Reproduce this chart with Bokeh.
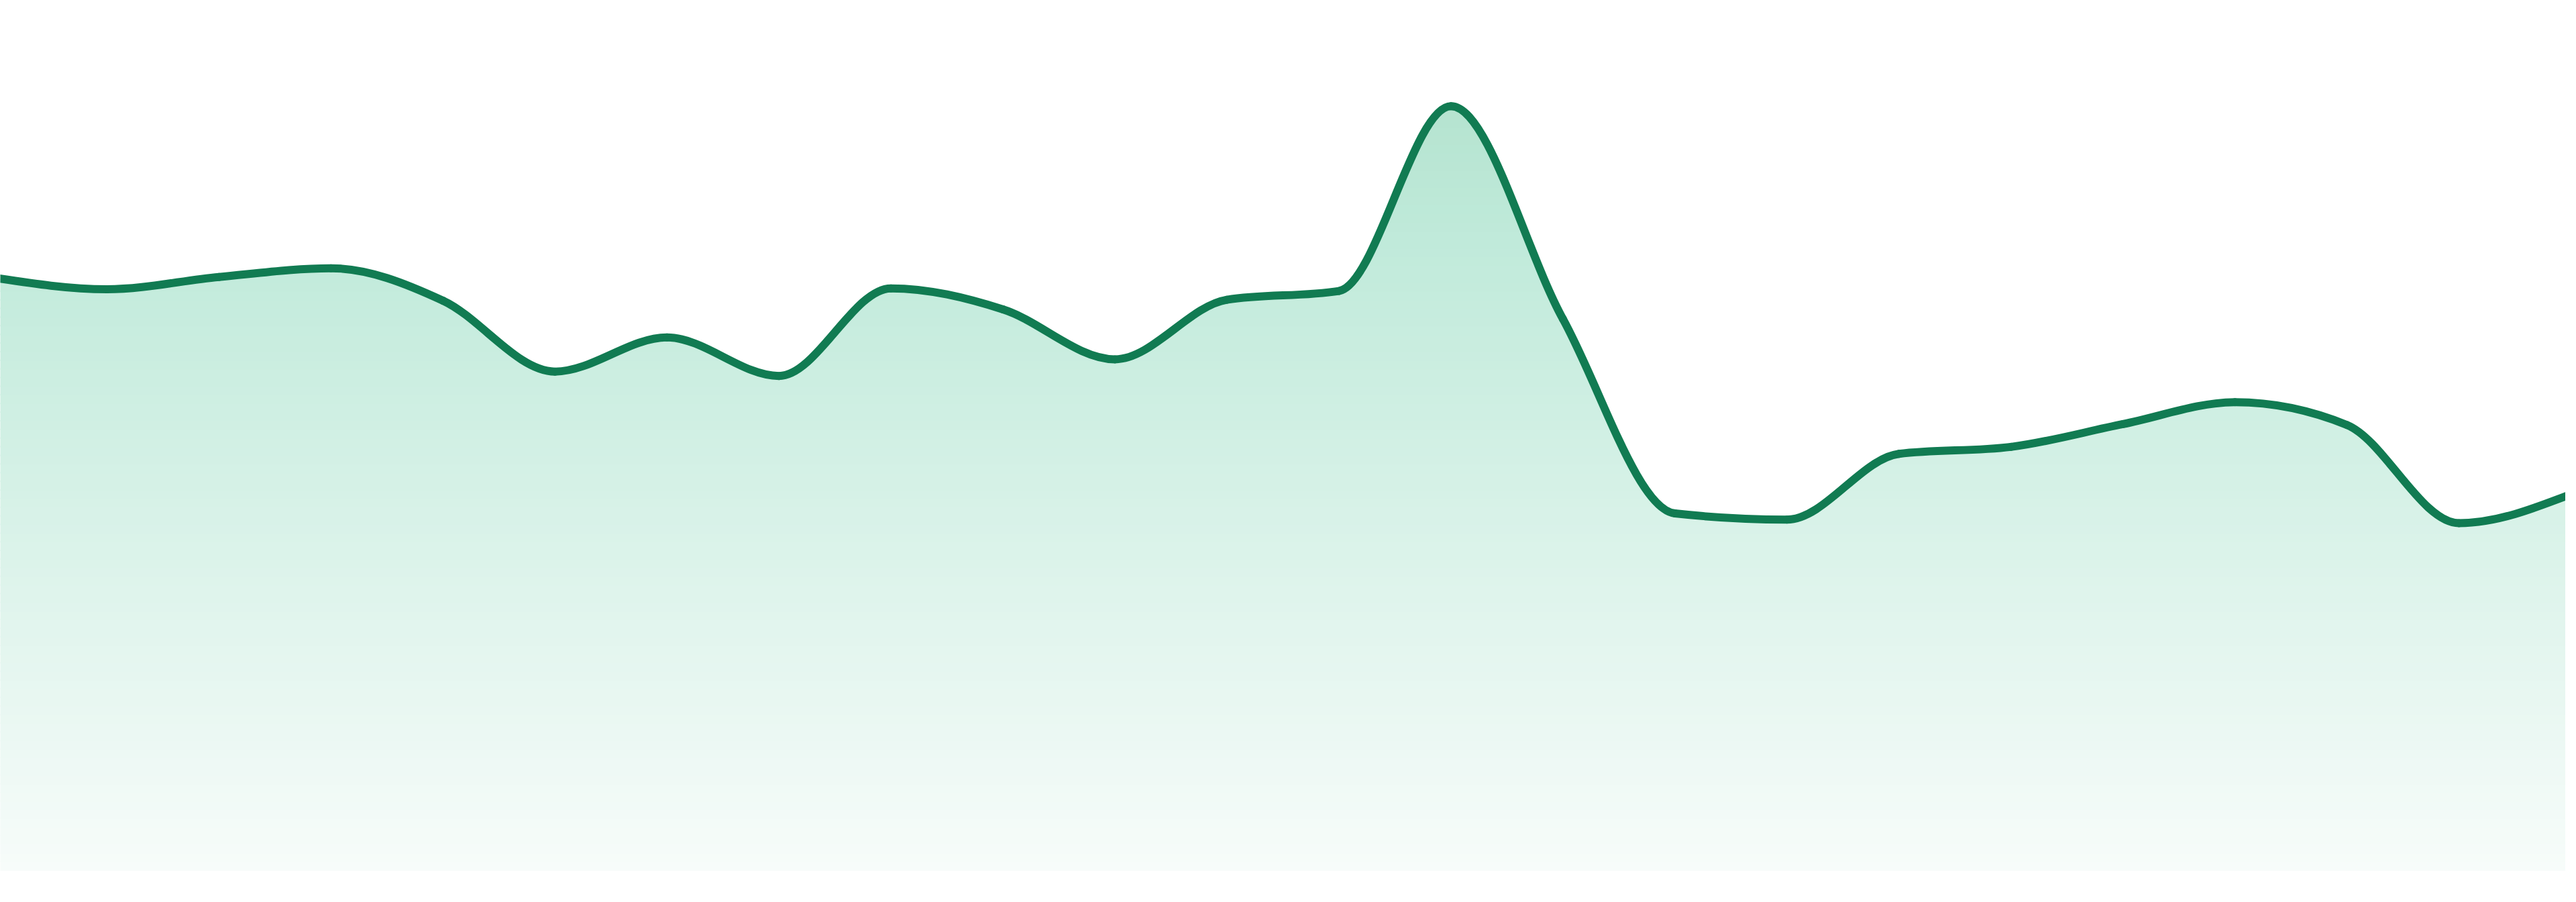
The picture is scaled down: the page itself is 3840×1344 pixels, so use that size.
import numpy as np
from bokeh.plotting import figure
from bokeh.models import Range1d
from bokeh.embed import file_html
from bokeh.resources import INLINE

# ---- data -------------------------------------------------------------
points = list(range(24))
values = [67.7, 66.4, 67.8, 68.8, 65.1, 57.0, 60.9, 56.5, 66.5, 64.1, 58.4, 65.2,
          66.2, 87.3, 63.0, 40.8, 40.1, 47.6, 48.4, 51.0, 53.5, 50.9, 39.7, 43.0]

LINE_COLOR = "#117b52"
# gradient stops (value, rgb)
grad_stops = [(0.0, (247, 252, 250)), (72.0, (192, 234, 218)), (88.5, (180, 227, 207))]

# ---- monotone-x cubic (same construction as d3.curveMonotoneX) ---------
x = np.asarray(points, dtype=float)
y = np.asarray(values, dtype=float)
n = len(x)
h = np.diff(x)
s = np.diff(y) / h
m = np.zeros(n)
for i in range(1, n - 1):
    s0, s1 = s[i - 1], s[i]
    p_ = (s0 * h[i] + s1 * h[i - 1]) / (h[i - 1] + h[i])
    m[i] = (np.sign(s0) + np.sign(s1)) * min(abs(s0), abs(s1), 0.5 * abs(p_))
m[0] = (3 * s[0] - m[1]) / 2
m[-1] = (3 * s[-1] - m[-2]) / 2

x0, x1 = x[:-1], x[1:]
y0, y1 = y[:-1], y[1:]
cx0 = x0 + h / 3
cy0 = y0 + m[:-1] * h / 3
cx1 = x1 - h / 3
cy1 = y1 - m[1:] * h / 3

# sampled outline (for the filled area under the curve)
t = np.linspace(0, 1, 48)[:, None]
bx = ((1 - t) ** 3) * x0 + 3 * ((1 - t) ** 2) * t * cx0 + 3 * (1 - t) * t ** 2 * cx1 + t ** 3 * x1
by = ((1 - t) ** 3) * y0 + 3 * ((1 - t) ** 2) * t * cy0 + 3 * (1 - t) * t ** 2 * cy1 + t ** 3 * y1
xs = bx.T.ravel()
ys = by.T.ravel()

# ---- figure -------------------------------------------------------------
step = 3840 / 23.0
p = figure(width=3824, height=1328,
           x_range=Range1d(8 / step, 3832 / step),
           y_range=Range1d(-31 / 13.05, 1297 / 13.05),
           output_backend="svg", toolbar_location=None, min_border=0)
p.axis.visible = False
p.grid.visible = False
p.outline_line_color = None
p.background_fill_color = "white"
p.border_fill_color = "white"


def grad_color(v):
    vs = [g[0] for g in grad_stops]
    out = []
    for c in range(3):
        out.append(int(round(np.interp(v, vs, [g[1][c] for g in grad_stops]))))
    return "#%02x%02x%02x" % tuple(out)


top = max(values) + 1.5
nb = 90
edges = np.linspace(0, top, nb + 1)
for k in range(nb):
    lo, hi = edges[k], edges[k + 1]
    mid = 0.5 * (lo + hi)
    ya = np.minimum(ys, lo)
    yb = np.minimum(ys, hi + 0.15)
    p.varea(x=xs, y1=ya, y2=yb, fill_color=grad_color(mid), fill_alpha=1.0)

p.bezier(x0=x0, y0=y0, x1=x1, y1=y1, cx0=cx0, cy0=cy0, cx1=cx1, cy1=cy1,
         line_color=LINE_COLOR, line_width=12, line_cap="round")

open("out.html", "w").write(file_html(p, INLINE))
